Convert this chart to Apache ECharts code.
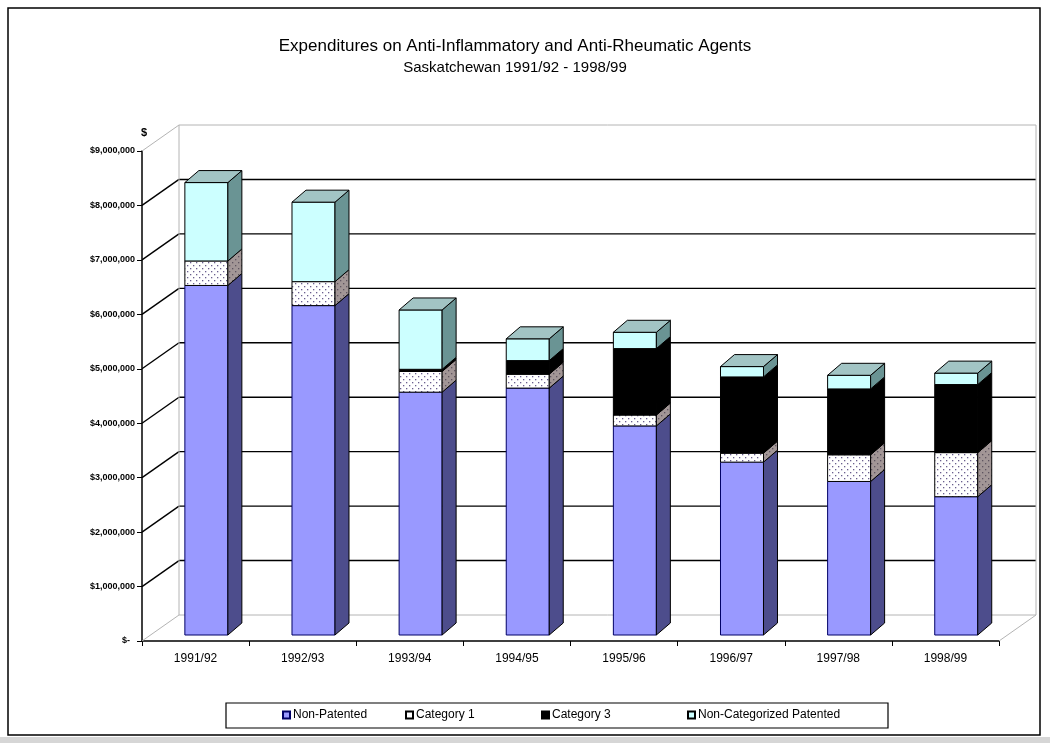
<!DOCTYPE html>
<html>
<head>
<meta charset="utf-8">
<script src="https://cdn.jsdelivr.net/npm/echarts@6/dist/echarts.min.js"></script>
<style>
  html, body { margin: 0; padding: 0; background: #ffffff; }
  #chart { width: 1050px; height: 743px; }
</style>
</head>
<body>
<div id="chart"></div>
<script>
// Fiscal years on the category axis
const categories = ['1991/92', '1992/93', '1993/94', '1994/95', '1995/96', '1996/97', '1997/98', '1998/99'];

// Expenditures in dollars, one array per drug group (stacked bottom to top)
const nonPatented    = [6420000, 6050000, 4460000, 4535000, 3840000, 3175000, 2820000, 2540000];
const category1      = [ 450000,  440000,  380000,  255000,  200000,  165000,  490000,  810000];
const category3      = [      0,       0,   40000,  250000, 1220000, 1400000, 1210000, 1250000];
const nonCatPatented = [1440000, 1460000, 1090000,  400000,  300000,  190000,  250000,  210000];

const seriesNames = ['Non-Patented', 'Category 1', 'Category 3', 'Non-Categorized Patented'];
const stackData = [nonPatented, category1, category3, nonCatPatented];

// Value-axis ticks
const yMax = 9000000;
const yStep = 1000000;

const FONT = 'Liberation Sans, Arial, sans-serif';

// Oblique 3D projection: depth offset of the back wall, and of the bars
const WALL_DX = 37, WALL_DY = -26;
const BAR_DX = 10.8, BAR_DY = -6;     // front face of the columns sits slightly inside the floor
const BAR_HALF = 21.5;                 // half width of a column's front face
const SIDE_DX = 14, SIDE_DY = -12;     // column depth

function dotPattern(bg, dot) {
  const c = document.createElement('canvas');
  c.width = 6; c.height = 6;
  const ctx = c.getContext('2d');
  ctx.fillStyle = bg; ctx.fillRect(0, 0, 6, 6);
  ctx.fillStyle = dot;
  ctx.fillRect(1, 1, 1.3, 1.3);
  ctx.fillRect(4, 4, 1.3, 1.3);
  return c;
}

const faceStyles = [
  { front: '#9999ff', side: '#4d4d8c', top: '#7a7ad0', stroke: '#000066' },
  { front: { image: dotPattern('#ffffff', '#6a5f8e'), repeat: 'repeat' },
    side: { image: dotPattern('#a29696', '#5e5560'), repeat: 'repeat' },
    top: '#c8c0c0', stroke: '#000000' },
  { front: '#000000', side: '#000000', top: '#202020', stroke: '#000000' },
  { front: '#ccffff', side: '#6a9494', top: '#a2c4c4', stroke: '#000000' }
];
const legendColors = ['#9999ff', '#ffffff', '#000000', '#ccffff'];

// Cumulative bases for the stacked segments
const bases = stackData.map((arr, s) => arr.map((_, i) => {
  let b = 0;
  for (let j = 0; j < s; j++) b += stackData[j][i];
  return b;
}));
function topmostIndex(i) {
  let t = 0;
  for (let s = 0; s < stackData.length; s++) if (stackData[s][i] > 0) t = s;
  return t;
}

function segmentRenderer(s) {
  const st = faceStyles[s];
  return function (params, api) {
    const k = api.value(0), base = api.value(1), top = api.value(2), isTop = api.value(3);
    if (!(top > base)) return;
    const pb = api.coord([k, base]);
    const pt = api.coord([k, top]);
    const cx = pb[0] + BAR_DX;
    const xl = cx - BAR_HALF, xr = cx + BAR_HALF;
    const yb = pb[1] + BAR_DY, yt = pt[1] + BAR_DY;
    const children = [
      { type: 'rect', shape: { x: xl, y: yt, width: xr - xl, height: yb - yt },
        style: { fill: st.front, stroke: st.stroke, lineWidth: 1 } },
      { type: 'polygon', shape: { points: [[xr, yt], [xr, yb], [xr + SIDE_DX, yb + SIDE_DY], [xr + SIDE_DX, yt + SIDE_DY]] },
        style: { fill: st.side, stroke: '#000000', lineWidth: 1 } }
    ];
    if (isTop) {
      children.push({ type: 'polygon',
        shape: { points: [[xl, yt], [xr, yt], [xr + SIDE_DX, yt + SIDE_DY], [xl + SIDE_DX, yt + SIDE_DY]] },
        style: { fill: st.top, stroke: '#000000', lineWidth: 1 } });
    }
    return { type: 'group', children: children };
  };
}

// Back wall, side wall edges and floor outline
function renderWalls(params, api) {
  const cs = params.coordSys;
  const x0 = cs.x, x1 = cs.x + cs.width;
  const children = [];
  const dark = { stroke: '#000000', lineWidth: 1.4 };
  const light = { stroke: '#b4b4b4', lineWidth: 1 };
  for (let v = 0; v <= yMax; v += yStep) {
    const y = api.coord([0, v])[1];
    const edge = (v === 0 || v === yMax);
    const style = edge ? light : dark;
    children.push({ type: 'line', shape: { x1: x0 + WALL_DX, y1: y + WALL_DY, x2: x1 + WALL_DX, y2: y + WALL_DY }, style: style });
    children.push({ type: 'line', shape: { x1: x0, y1: y, x2: x0 + WALL_DX, y2: y + WALL_DY }, style: style });
  }
  const y0 = api.coord([0, 0])[1], yTop = api.coord([0, yMax])[1];
  children.push({ type: 'line', shape: { x1: x0 + WALL_DX, y1: yTop + WALL_DY, x2: x0 + WALL_DX, y2: y0 + WALL_DY }, style: light });
  children.push({ type: 'line', shape: { x1: x1 + WALL_DX, y1: yTop + WALL_DY, x2: x1 + WALL_DX, y2: y0 + WALL_DY }, style: light });
  children.push({ type: 'line', shape: { x1: x1, y1: y0, x2: x1 + WALL_DX, y2: y0 + WALL_DY }, style: light });
  return { type: 'group', children: children };
}

function formatDollars(v) {
  if (v === 0) return '$-  ';
  return '$' + String(v).replace(/\B(?=(\d{3})+(?!\d))/g, ',');
}

const series = [{
  type: 'custom',
  name: 'walls',
  renderItem: renderWalls,
  data: [[0, 0]],
  z: 1,
  silent: true
}];
seriesNames.forEach((name, s) => {
  series.push({
    type: 'custom',
    name: name,
    renderItem: segmentRenderer(s),
    itemStyle: { color: legendColors[s], borderColor: s === 0 ? '#000066' : '#000000', borderWidth: 1 },
    data: categories.map((c, i) => [i, bases[s][i], bases[s][i] + stackData[s][i], topmostIndex(i) === s ? 1 : 0]),
    encode: { x: 0, y: [1, 2] },
    z: 3
  });
});

const legendLefts = [282, 405, 541, 687];
const legends = seriesNames.map((name, s) => ({
  data: [name],
  left: legendLefts[s],
  top: 709,
  icon: 'rect',
  itemWidth: 7,
  itemHeight: 7,
  itemGap: 3,
  padding: 0,
  textStyle: { fontFamily: FONT, fontSize: 12, color: '#000000', padding: [0, 0, 0, -2] },
  selectedMode: false
}));

const chart = echarts.init(document.getElementById('chart'), null, { renderer: 'canvas' });
chart.setOption({
  animation: false,
  backgroundColor: '#ffffff',
  title: [{
    text: 'Expenditures on Anti-Inflammatory and Anti-Rheumatic Agents',
    left: 510,
    top: 33,
    textAlign: 'center',
    textStyle: { fontFamily: FONT, fontSize: 17, fontWeight: 'normal', color: '#000000' }
  }, {
    text: 'Saskatchewan 1991/92 - 1998/99',
    left: 510,
    top: 55,
    textAlign: 'center',
    textStyle: { fontFamily: FONT, fontSize: 15, fontWeight: 'normal', color: '#000000' }
  }],
  legend: legends,
  grid: { left: 142, right: 51, top: 151, bottom: 102, containLabel: false },
  xAxis: {
    type: 'category',
    data: categories,
    boundaryGap: true,
    axisLine: { show: true, lineStyle: { color: '#000000', width: 1.5 } },
    axisTick: { show: true, length: 5, alignWithLabel: false, lineStyle: { color: '#000000' } },
    axisLabel: { fontFamily: FONT, fontSize: 12, color: '#000000', margin: 12 },
    splitLine: { show: false }
  },
  yAxis: {
    type: 'value',
    min: 0,
    max: yMax,
    interval: yStep,
    axisLine: { show: true, lineStyle: { color: '#000000', width: 1.5 } },
    axisTick: { show: true, length: 5, lineStyle: { color: '#000000' } },
    axisLabel: { fontFamily: FONT, fontSize: 9, fontWeight: 'bold', color: '#000000', margin: 7, formatter: formatDollars },
    splitLine: { show: false }
  },
  graphic: [
    { type: 'rect', shape: { x: 8, y: 8, width: 1032, height: 727 },
      style: { fill: 'none', stroke: '#000000', lineWidth: 1.5 }, z: -1 },
    { type: 'rect', shape: { x: 0, y: 737, width: 1050, height: 6 },
      style: { fill: '#d6d6d6' }, z: -1 },
    { type: 'rect', shape: { x: 226, y: 703, width: 662, height: 25 },
      style: { fill: 'none', stroke: '#000000', lineWidth: 1.2 }, z: 10 },
    { type: 'text', left: 141, top: 127,
      style: { text: '$', fontFamily: FONT, fontSize: 11, fontWeight: 'bold', fill: '#000000' } }
  ],
  series: series
});
</script>
</body>
</html>
